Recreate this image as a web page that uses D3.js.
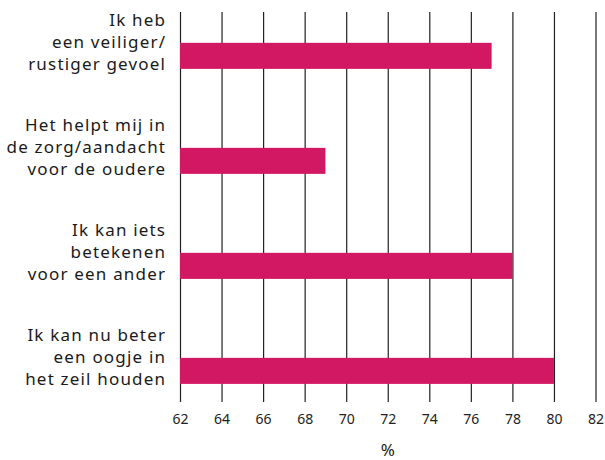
<!DOCTYPE html>
<html>
<head>
<meta charset="utf-8">
<script src="https://cdn.jsdelivr.net/npm/d3@7"></script>
<style>
  body { margin: 0; background: #fff; }
  text { font-family: "Noto Sans", "Open Sans", sans-serif; }
</style>
</head>
<body>
<script>
// Data
const categories = [
    ["Ik heb", "een veiliger/", "rustiger gevoel"],
    ["Het helpt mij in", "de zorg/aandacht", "voor de oudere"],
    ["Ik kan iets", "betekenen", "voor een ander"],
    ["Ik kan nu beter", "een oogje in", "het zeil houden"]
];
const values = [77, 69, 78, 80];
const xTicks = [62, 64, 66, 68, 70, 72, 74, 76, 78, 80, 82];
const xLabel = "%";

const width = 605, height = 460;
const margin = { top: 12, right: 10, bottom: 58, left: 180 };

const svg = d3.select("body").append("svg")
    .attr("width", width)
    .attr("height", height);

// the reference font runs wide, so spread the letters a little
function fitSpacing(str, target, size) {
    const t = svg.append("text").style("font-size", size + "px").text(str);
    const w = t.node().getComputedTextLength();
    t.remove();
    return Math.max(0, (target - w) / str.length);
}
const catFont = 17;
const catSpacing = fitSpacing("rustiger gevoel", 138, catFont);
const tickFont = 14;
const tickSpacing = fitSpacing("62", 16, tickFont);

const xScale = d3.scaleLinear()
    .domain([62, 82])
    .range([margin.left, 595.5]);

const yScale = d3.scaleBand()
    .domain(d3.range(categories.length))
    .range([margin.top, height - margin.bottom])
    .paddingInner(0.752)
    .paddingOuter(0.233)
    .align(0.63);

// Grid lines (ticks stretched up)
const xAxis = d3.axisBottom(xScale)
    .tickValues(xTicks)
    .tickSize(-(height - margin.bottom - margin.top))
    .tickPadding(12)
    .tickFormat(d => d);

const gx = svg.append("g")
    .attr("transform", `translate(0,${height - margin.bottom})`)
    .call(xAxis);
gx.select(".domain").remove();
gx.attr("font-family", null).attr("font-size", null);
gx.selectAll(".tick line").attr("stroke", "#222").attr("stroke-width", 1.2);
gx.selectAll(".tick text")
    .attr("fill", "#222")
    .attr("dx", tickSpacing / 2)
    .style("font-size", tickFont + "px")
    .style("letter-spacing", tickSpacing + "px");

// Bars
svg.selectAll("rect.bar")
    .data(values)
    .enter().append("rect")
    .attr("class", "bar")
    .attr("x", xScale(62))
    .attr("y", (d, i) => yScale(i))
    .attr("width", d => xScale(d) - xScale(62))
    .attr("height", yScale.bandwidth())
    .attr("fill", "#d31863");

// Category labels
const lineH = 22;
const labels = svg.selectAll("text.cat")
    .data(categories)
    .enter().append("text")
    .attr("class", "cat")
    .attr("text-anchor", "end")
    .attr("fill", "#1a1a1a")
    .style("font-size", catFont + "px")
    .style("letter-spacing", catSpacing + "px");

labels.each(function(lines, i) {
    const base = yScale(i) + yScale.bandwidth() + 1;
    d3.select(this).selectAll("tspan")
        .data(lines)
        .enter().append("tspan")
        .attr("x", 165 + catSpacing)
        .attr("y", (l, j) => base - (lines.length - 1 - j) * lineH)
        .text(l => l);
});

// Axis title
svg.append("text")
    .attr("x", (xScale(62) + xScale(82)) / 2)
    .attr("y", 456)
    .attr("text-anchor", "middle")
    .attr("fill", "#222")
    .style("font-size", "17px")
    .text(xLabel);
</script>
</body>
</html>
